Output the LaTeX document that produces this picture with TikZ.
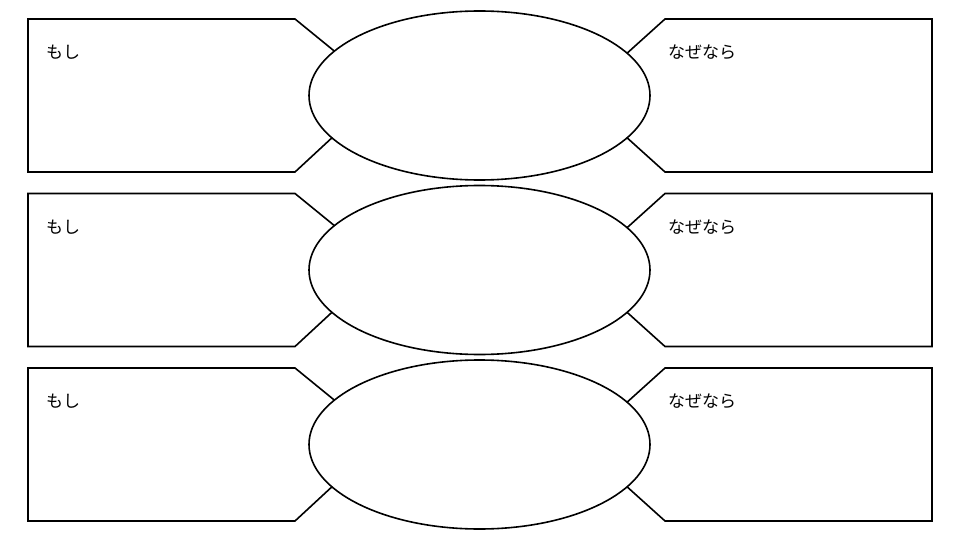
\documentclass[tikz,border=0pt]{standalone}
\usepackage{fontspec}
\newfontfamily\jpfont{Noto Sans CJK JP}
\usetikzlibrary{shapes.geometric, calc}
\tikzset{
    outline/.style={draw=black, line width=1.6pt, line join=miter},
    hub/.style={ellipse, outline, minimum width=341pt, minimum height=169pt,
                inner sep=0pt, outer sep=0pt},
    cue/.style={anchor=west, inner sep=0pt,
                font=\jpfont\fontsize{17}{19}\selectfont},
}

\begin{document}
\begin{tikzpicture}[x=1pt, y=-1pt]
    \useasboundingbox (0,0) rectangle (960,540);
    \foreach \r [evaluate=\r as \c using 95.5+174.5*\r] in {0,1,2} {
        \node[hub] (hub\r) at (479.5,\c) {};
        % left panel
        \coordinate (lt\r) at (295,\c-76.5);
        \coordinate (lb\r) at (295,\c+76.5);
        \draw[outline] (hub\r.163.5) -- (lt\r) -- (28,\c-76.5)
            -- (28,\c+76.5) -- (lb\r) -- (hub\r.196.5);
        \node[cue] (if\r) at (46,\c-43) {もし};
        % right panel
        \coordinate (rt\r) at (665,\c-76.5);
        \coordinate (rb\r) at (665,\c+76.5);
        \draw[outline] (hub\r.16.5) -- (rt\r) -- (932,\c-76.5)
            -- (932,\c+76.5) -- (rb\r) -- (hub\r.-16.5);
        \node[cue] (why\r) at (668,\c-43) {なぜなら};
    }
\end{tikzpicture}
\end{document}
